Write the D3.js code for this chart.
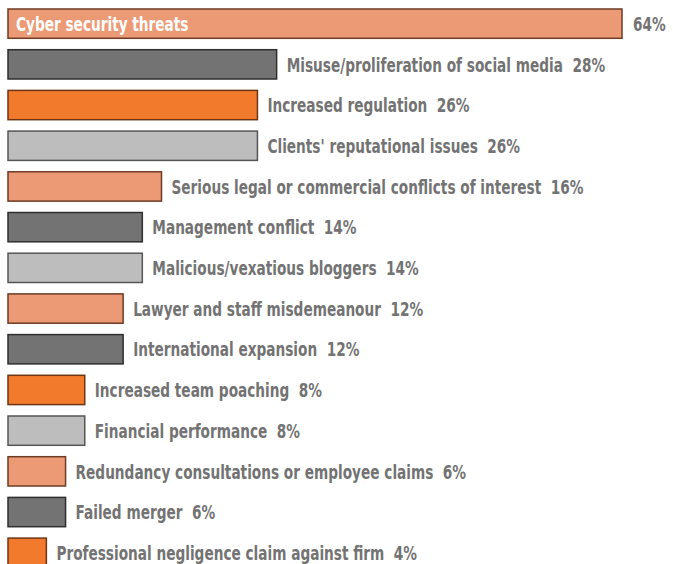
<!DOCTYPE html>
<html>
<head>
<meta charset="utf-8">
<script src="https://cdn.jsdelivr.net/npm/d3@7"></script>
<style>
  body { margin: 0; background: #fff; }
  svg text { font-family: "DejaVu Sans Condensed", "DejaVu Sans", sans-serif; font-weight: bold; white-space: pre; }
</style>
</head>
<body>
<svg id="chart"></svg>
<script>
const categories = [
  "Cyber security threats",
  "Misuse/proliferation of social media",
  "Increased regulation",
  "Clients' reputational issues",
  "Serious legal or commercial conflicts of interest",
  "Management conflict",
  "Malicious/vexatious bloggers",
  "Lawyer and staff misdemeanour",
  "International expansion",
  "Increased team poaching",
  "Financial performance",
  "Redundancy consultations or employee claims",
  "Failed merger",
  "Professional negligence claim against firm"
];
const values = [64, 28, 26, 26, 16, 14, 14, 12, 12, 8, 8, 6, 6, 4];
const groups = ["a", "b", "c", "d", "a", "b", "d", "a", "b", "c", "d", "a", "b", "c"];

const width = 673;
const height = 564;
const step = 40.7;
const inner = 0.28;
const fontSize = 20;
const squeeze = 0.76; // condensed look

const svg = d3.select("#chart").attr("width", width).attr("height", height);

const xScale = d3.scaleLinear().domain([0, 64]).range([8, 622]);

const yScale = d3
  .scaleBand()
  .domain(d3.range(categories.length))
  .range([9, 9 + step * (categories.length - inner)])
  .paddingInner(inner)
  .paddingOuter(0);

const fill = d3.scaleOrdinal().domain(["a", "b", "c", "d"])
  .range(["#ec9a75", "#737373", "#f27a2c", "#bdbdbd"]);
const stroke = d3.scaleOrdinal().domain(["a", "b", "c", "d"])
  .range(["#6e3b24", "#2e2e2e", "#6e3514", "#555555"]);

const data = categories.map((c, i) => ({ name: c, value: values[i], group: groups[i], i }));

const rows = svg.selectAll("g.row")
  .data(data)
  .enter()
  .append("g")
  .attr("class", "row");

rows.append("rect")
  .attr("x", xScale(0))
  .attr("y", (d) => yScale(d.i))
  .attr("width", (d) => xScale(d.value) - xScale(0))
  .attr("height", yScale.bandwidth())
  .attr("fill", (d) => fill(d.group))
  .attr("stroke", (d) => stroke(d.group))
  .attr("stroke-width", 1.5);

function label(sel, x, y, color, txt) {
  sel.append("g")
    .attr("transform", `translate(${x},${y}) scale(${squeeze},1)`)
    .append("text")
    .attr("dy", "0.36em")
    .attr("font-size", fontSize)
    .attr("fill", color)
    .text(txt);
}

data.forEach((d) => {
  const y = yScale(d.i) + yScale.bandwidth() / 2;
  if (d.i === 0) {
    label(svg, xScale(0) + 8, y, "#fff", d.name);
    // first bar keeps the value outside
    label(svg, xScale(d.value) + 11, y, "#737373", `${d.value}%`);
  } else {
    label(svg, xScale(d.value) + 10, y, "#737373", `${d.name}  ${d.value}%`);
  }
});
</script>
</body>
</html>
